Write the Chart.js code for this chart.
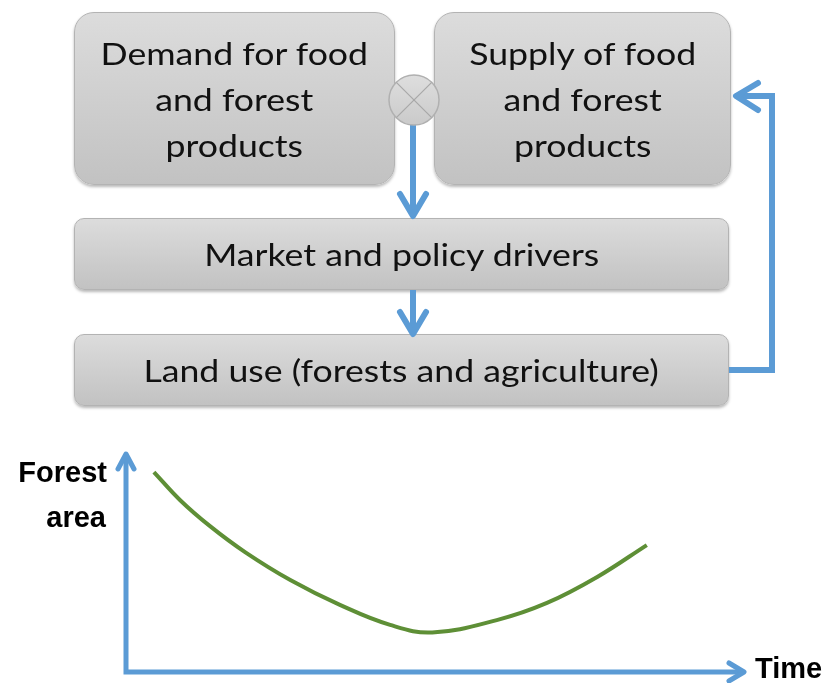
<!DOCTYPE html>
<html><head><meta charset="utf-8">
<script src="https://cdn.jsdelivr.net/npm/chart.js@4/dist/chart.umd.min.js"></script>
<style>
html,body{margin:0;padding:0;background:#fff;}
#wrap{position:relative;width:828px;height:683px;overflow:hidden;}
#c{position:absolute;left:0;top:0;}
.box{position:absolute;box-sizing:border-box;background:linear-gradient(#dcdcdc,#c2c2c2);border:1px solid #b3b3b3;box-shadow:0 2px 3px rgba(0,0,0,0.28);display:flex;align-items:center;justify-content:center;text-align:center;font-family:Lato,"Open Sans",sans-serif;font-size:31px;line-height:46px;color:#111;}
.box span{display:inline-block;transform:scaleX(1.15);white-space:nowrap;}
svg{position:absolute;left:0;top:0;}
</style></head>
<body><div id="wrap">
<canvas id="c" width="828" height="683"></canvas>
<div class="box" style="left:74px;top:12px;width:321px;height:173px;border-radius:20px"><span>Demand for food<br>and forest<br>products</span></div>
<div class="box" style="left:434px;top:12px;width:297px;height:173px;border-radius:20px"><span>Supply of food<br>and forest<br>products</span></div>
<div class="box" style="left:74px;top:218px;width:655px;height:72px;border-radius:10px"><span>Market and policy drivers</span></div>
<div class="box" style="left:74px;top:334px;width:655px;height:72px;border-radius:10px"><span>Land use (forests and agriculture)</span></div>
<svg width="828" height="683">
<defs><linearGradient id="cg" x1="0" y1="0" x2="0" y2="1"><stop offset="0" stop-color="#dedede"/><stop offset="1" stop-color="#cacaca"/></linearGradient></defs>
<g stroke="#5b9bd5" stroke-width="6" fill="none">
<line x1="413" y1="124" x2="413" y2="214"/>
<polyline points="400,194 413,216 426,194" stroke-linecap="round" stroke-linejoin="round"/>
<line x1="413" y1="290" x2="413" y2="332"/>
<polyline points="400,312 413,334 426,312" stroke-linecap="round" stroke-linejoin="round"/>
<polyline points="729,370 772,370 772,96 738,96"/>
<polyline points="758,83 736,96 758,110" stroke-linecap="round" stroke-linejoin="round"/>
</g>
<circle cx="414" cy="100" r="25" fill="url(#cg)" stroke="#b0b0b0" stroke-width="1.5"/>
<g stroke="#a8a8a8" stroke-width="1.2"><line x1="396.3" y1="82.3" x2="431.7" y2="117.7"/><line x1="431.7" y1="82.3" x2="396.3" y2="117.7"/></g>
</svg>
</div>
<script>
const timeValues = [4.5, 8.7, 13.5, 19.2, 26.5, 34.5, 42.6, 49.4, 59.8, 67.9, 76.0, 84.0];
const forestArea = [90.9, 78.2, 66.4, 54.5, 41.8, 30.5, 21.4, 18.0, 23.6, 31.4, 43.2, 57.7];
const yAxisLabel = ['Forest', 'area'];
const xAxisLabel = 'Time';

const axesPlugin = {
  id: 'axesArrows',
  beforeDatasetsDraw(chart) {
    const {ctx, chartArea: a} = chart;
    ctx.save();
    ctx.strokeStyle = '#5b9bd5';
    ctx.lineWidth = 5;
    ctx.beginPath();
    ctx.moveTo(a.left, a.bottom);
    ctx.lineTo(a.left, a.top + 3);
    ctx.moveTo(a.left - 2.5, a.bottom);
    ctx.lineTo(a.right - 3, a.bottom);
    ctx.stroke();
    ctx.lineCap = 'round';
    ctx.lineJoin = 'round';
    ctx.beginPath();
    ctx.moveTo(a.left - 8, a.top + 17);
    ctx.lineTo(a.left, a.top + 2);
    ctx.lineTo(a.left + 8, a.top + 17);
    ctx.moveTo(a.right - 17, a.bottom - 9);
    ctx.lineTo(a.right - 2, a.bottom);
    ctx.lineTo(a.right - 17, a.bottom + 9);
    ctx.stroke();
    ctx.fillStyle = '#000';
    ctx.font = 'bold 29px "Liberation Sans", Arial, sans-serif';
    ctx.textAlign = 'right';
    ctx.textBaseline = 'alphabetic';
    ctx.fillText(yAxisLabel[0], a.left - 19, a.top + 30);
    ctx.fillText(yAxisLabel[1], a.left - 20, a.top + 75);
    ctx.textAlign = 'left';
    ctx.fillText(xAxisLabel, a.right + 9, a.bottom + 6);
    ctx.restore();
  }
};

new Chart(document.getElementById('c'), {
  type: 'line',
  data: {
    datasets: [{
      data: timeValues.map((t, i) => ({x: t, y: forestArea[i]})),
      borderColor: '#5e8f36',
      borderWidth: 4,
      pointRadius: 0,
      tension: 0.4,
      fill: false
    }]
  },
  options: {
    responsive: false,
    animation: false,
    layout: {padding: {left: 126, top: 452, right: 82, bottom: 11}},
    plugins: {legend: {display: false}, tooltip: {enabled: false}},
    scales: {
      x: {type: 'linear', min: 0, max: 100, display: false},
      y: {type: 'linear', min: 0, max: 100, display: false}
    }
  },
  plugins: [axesPlugin]
});
</script>
</body></html>
